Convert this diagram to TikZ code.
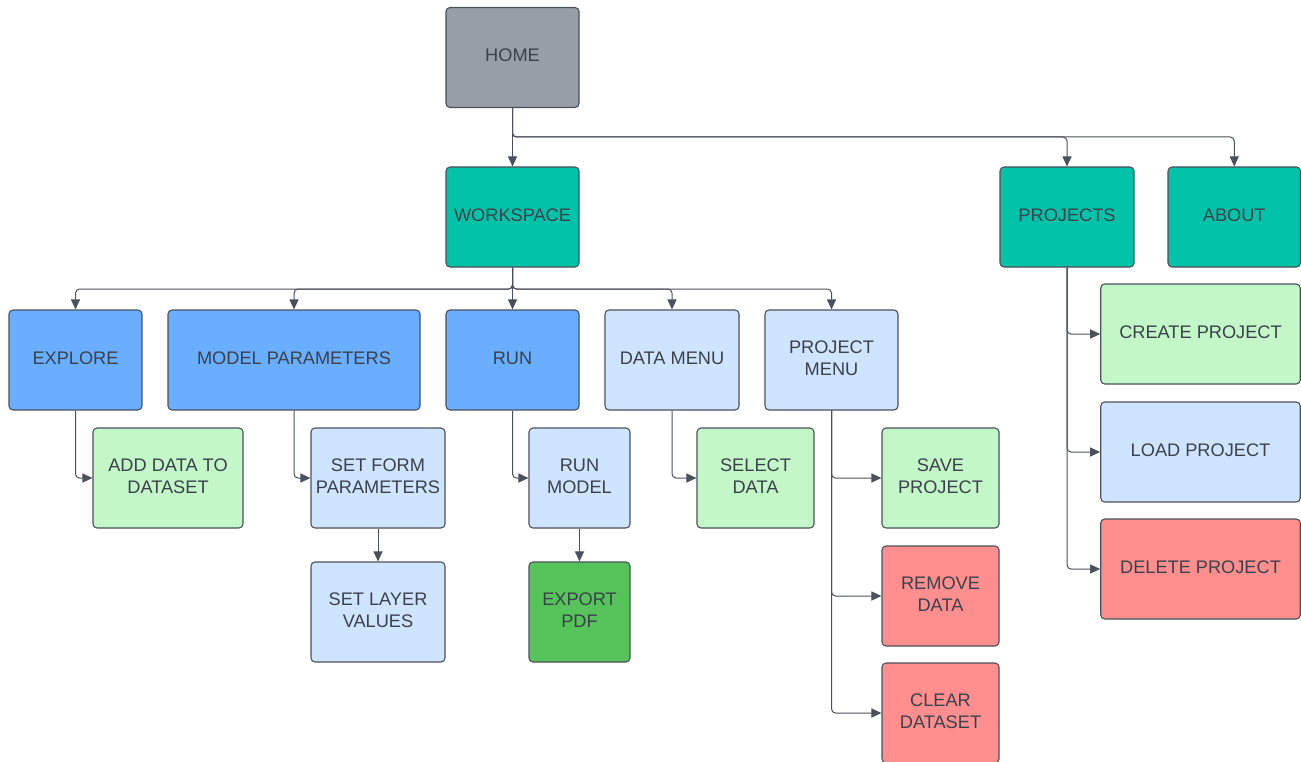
\documentclass[tikz,border=0pt]{standalone}
\usepackage{fontspec}
\setmainfont{Liberation Sans}
\usetikzlibrary{arrows.meta}
\definecolor{cgray}{HTML}{979EA8}
\definecolor{cteal}{HTML}{00C2A8}
\definecolor{cblue}{HTML}{6AAEFF}
\definecolor{clblue}{HTML}{CFE4FF}
\definecolor{clgreen}{HTML}{C3F7C8}
\definecolor{cred}{HTML}{FF8F8F}
\definecolor{cgreen}{HTML}{56C45A}
\definecolor{bordc}{HTML}{4B515B}
\definecolor{linec}{HTML}{4B515B}
\definecolor{txt}{HTML}{3A414B}
\begin{document}
\begin{tikzpicture}[x=1pt,y=-1pt,
  box/.style={draw=bordc, line width=1.1pt, rounded corners=4pt, text=txt, align=center,
    font=\fontsize{18.2}{22}\selectfont, inner sep=0pt, minimum height=100pt, text depth=4pt},
  conn/.style={draw=linec, line width=1pt, rounded corners=4pt, -{Triangle[length=10pt,width=9pt]}}]
\useasboundingbox (0,0) rectangle (1301,762);
\clip (0,0) rectangle (1301,762);
\fill[white] (0,0) rectangle (1301,762);
% top
\node[box, fill=cgray, minimum width=133pt] (home) at (512.5,57.5) {HOME};
\node[box, fill=cteal, minimum width=133pt] (work) at (512.5,217) {WORKSPACE};
\node[box, fill=cteal, minimum width=134pt] (proj) at (1067,217) {PROJECTS};
\node[box, fill=cteal, minimum width=132.5pt] (about) at (1234.25,217) {ABOUT};
% second row
\node[box, fill=cblue, minimum width=133pt] (explore) at (75.5,360) {EXPLORE};
\node[box, fill=cblue, minimum width=252pt] (model) at (294,360) {MODEL PARAMETERS};
\node[box, fill=cblue, minimum width=133pt] (run) at (512.5,360) {RUN};
\node[box, fill=clblue, minimum width=134pt] (datam) at (672,360) {DATA MENU};
\node[box, fill=clblue, minimum width=133pt] (projm) at (831.5,360) {PROJECT\\MENU};
% third row
\node[box, fill=clgreen, minimum width=150pt] (adddata) at (168,478) {ADD DATA TO\\DATASET};
\node[box, fill=clblue, minimum width=134pt] (setform) at (378,478) {SET FORM\\PARAMETERS};
\node[box, fill=clblue, minimum width=134pt] (setlayer) at (378,612) {SET LAYER\\VALUES};
\node[box, fill=clblue, minimum width=101pt] (runmodel) at (579.5,478) {RUN\\MODEL};
\node[box, fill=cgreen, minimum width=101pt] (export) at (579.5,612) {EXPORT\\PDF};
\node[box, fill=clgreen, minimum width=117pt] (select) at (755.5,478) {SELECT\\DATA};
\node[box, fill=clgreen, minimum width=117pt] (save) at (940.5,478) {SAVE\\PROJECT};
\node[box, fill=cred, minimum width=117pt] (remove) at (940.5,596) {REMOVE\\DATA};
\node[box, fill=cred, minimum width=117pt] (clear) at (940.5,713) {CLEAR\\DATASET};
% projects children
\node[box, fill=clgreen, minimum width=199.5pt] (create) at (1200.5,334) {CREATE PROJECT};
\node[box, fill=clblue, minimum width=199.5pt] (load) at (1200.5,452) {LOAD PROJECT};
\node[box, fill=cred, minimum width=199.5pt] (delete) at (1200.5,569) {DELETE PROJECT};
% connectors
\coordinate (hb) at (512.5,137);
\coordinate (wb) at (512.5,289);
\draw[conn] (home.south) -- (work.north);
\draw[conn] (home.south) -- (hb) -| (proj.north);
\draw[conn] (home.south) -- (hb) -| (about.north);
\draw[conn] (work.south) -- (wb) -| (explore.north);
\draw[conn] (work.south) -- (wb) -| (model.north);
\draw[conn] (work.south) -- (run.north);
\draw[conn] (work.south) -- (wb) -| (datam.north);
\draw[conn] (work.south) -- (wb) -| (projm.north);
\draw[conn] (explore.south) |- (adddata.west);
\draw[conn] (model.south) |- (setform.west);
\draw[conn] (run.south) |- (runmodel.west);
\draw[conn] (datam.south) |- (select.west);
\draw[conn] (projm.south) |- (save.west);
\draw[conn] (projm.south) |- (remove.west);
\draw[conn] (projm.south) |- (clear.west);
\draw[conn] (setform.south) -- (setlayer.north);
\draw[conn] (runmodel.south) -- (export.north);
\draw[conn] (proj.south) |- (create.west);
\draw[conn] (proj.south) |- (load.west);
\draw[conn] (proj.south) |- (delete.west);
\end{tikzpicture}
\end{document}
